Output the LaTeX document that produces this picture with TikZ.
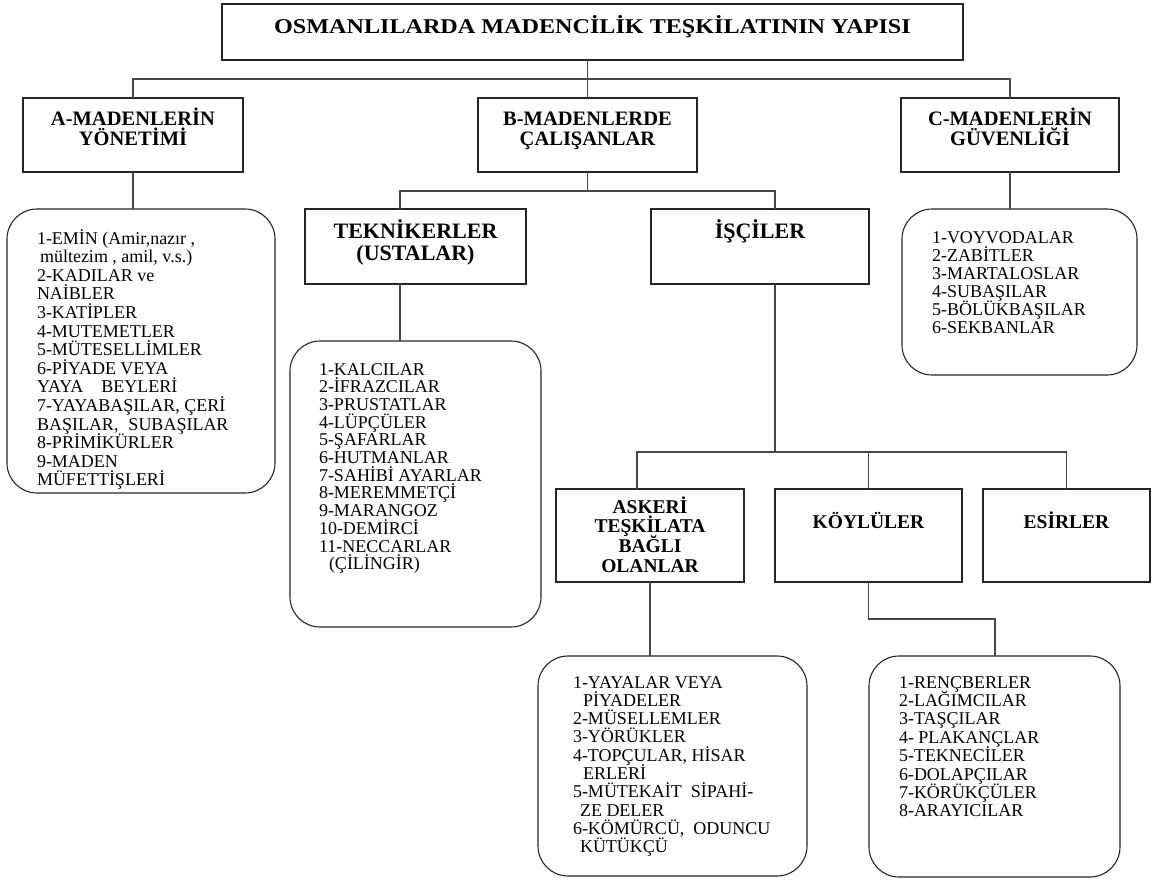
\documentclass[tikz,border=0pt]{standalone}
\usepackage{fontspec}
\setmainfont{Liberation Serif}
\usepackage{graphicx}
\newcommand\cbox[6]{\parbox[c][#2][t]{#1}{\centering\fontsize{#3}{#4}\selectfont\bfseries\lineskiplimit=-100pt\lineskip=0pt\rule{0pt}{#5}#6\par}}
\newcommand\lbox[7]{\parbox[c][#2][t]{#1}{\raggedright\leftskip=#7\fontsize{#3}{#4}\selectfont\lineskiplimit=-100pt\lineskip=0pt\rule{0pt}{#5}#6\par}}
\tikzset{
  box/.style={draw=black!85, line width=1.1pt, inner sep=0pt, outer sep=0pt, anchor=north west},
  rbox/.style={box, rounded corners=30pt},
  conn/.style={draw=black!72, line width=1.3pt}
}
\begin{document}
\begin{tikzpicture}[x=1pt,y=-1pt]
\useasboundingbox[fill=white] (0,0) rectangle (1160,879);
% headers
\node[box] (title) at (222,4) {\cbox{741pt}{56pt}{21pt}{21pt}{29pt}{\scalebox{1.15}[1]{OSMANLILARDA MADENCİLİK TEŞKİLATININ YAPISI}}};
\node[box] (A) at (23,98) {\cbox{220pt}{74pt}{20.5pt}{20pt}{27pt}{A-MADENLERİN\\YÖNETİMİ}};
\node[box] (B) at (478,98) {\cbox{219pt}{74pt}{20.5pt}{20pt}{27pt}{B-MADENLERDE\\ÇALIŞANLAR}};
\node[box] (C) at (901,98) {\cbox{218pt}{74pt}{20.5pt}{20pt}{27pt}{C-MADENLERİN\\GÜVENLİĞİ}};
\node[box] (tek) at (305,209) {\cbox{221pt}{75pt}{22pt}{22pt}{29pt}{TEKNİKERLER\\(USTALAR)}};
\node[box] (isc) at (651,209) {\cbox{218pt}{75pt}{22pt}{22pt}{29pt}{İŞÇİLER}};
\node[box] (ask) at (556,489) {\cbox{188pt}{93pt}{19.5pt}{19.7pt}{24pt}{ASKERİ\\TEŞKİLATA\\BAĞLI\\OLANLAR}};
\node[box] (koy) at (775,489) {\cbox{187pt}{93pt}{19.5pt}{19.7pt}{39pt}{KÖYLÜLER}};
\node[box] (esir) at (983,489) {\cbox{167pt}{93pt}{19.5pt}{19.7pt}{39pt}{ESİRLER}};
% lists
\node[rbox] (Alist) at (7,209) {\lbox{268pt}{284pt}{18pt}{18.6pt}{35pt}{1-EMİN (Amir,nazır ,\\
\hspace*{3pt}mültezim , amil, v.s.)\\
2-KADILAR ve\\
NAİBLER\\
3-KATİPLER\\
4-MUTEMETLER\\
5-MÜTESELLİMLER\\
6-PİYADE VEYA\\
YAYA\hspace{18pt}BEYLERİ\\
7-YAYABAŞILAR, ÇERİ\\
BAŞILAR,\hspace{10pt}SUBAŞILAR\\
8-PRİMİKÜRLER\\
9-MADEN\\
MÜFETTİŞLERİ}{30pt}};
\node[rbox] (teklist) at (290,341) {\lbox{251pt}{286pt}{18pt}{17.7pt}{34pt}{1-KALCILAR\\
2-İFRAZCILAR\\
3-PRUSTATLAR\\
4-LÜPÇÜLER\\
5-ŞAFARLAR\\
6-HUTMANLAR\\
7-SAHİBİ AYARLAR\\
8-MEREMMETÇİ\\
9-MARANGOZ\\
10-DEMİRCİ\\
11-NECCARLAR\\
\hspace*{10pt}(ÇİLİNGİR)}{29pt}};
\node[rbox] (Clist) at (902,209) {\lbox{235pt}{166pt}{18pt}{18pt}{34pt}{1-VOYVODALAR\\
2-ZABİTLER\\
3-MARTALOSLAR\\
4-SUBAŞILAR\\
5-BÖLÜKBAŞILAR\\
6-SEKBANLAR}{30pt}};
\node[rbox] (asklist) at (538,656) {\lbox{269pt}{220pt}{18pt}{18.3pt}{32pt}{1-YAYALAR VEYA\\
\hspace*{10pt}PİYADELER\\
2-MÜSELLEMLER\\
3-YÖRÜKLER\\
4-TOPÇULAR, HİSAR\\
\hspace*{10pt}ERLERİ\\
5-MÜTEKAİT\hspace{9pt}SİPAHİ-\\
\hspace*{7pt}ZE DELER\\
6-KÖMÜRCÜ,\hspace{9pt}ODUNCU\\
\hspace*{7pt}KÜTÜKÇÜ}{35pt}};
\node[rbox] (koylist) at (869,656) {\lbox{251pt}{221pt}{18pt}{18.4pt}{32pt}{1-RENÇBERLER\\
2-LAĞIMCILAR\\
3-TAŞÇILAR\\
4- PLAKANÇLAR\\
5-TEKNECİLER\\
6-DOLAPÇILAR\\
7-KÖRÜKÇÜLER\\
8-ARAYICILAR}{30pt}};
% junction coordinates
\coordinate (j1) at (588,79);
\coordinate (tekx) at (400,191);
\coordinate (iscx) at (775,191);
\coordinate (j3) at (637,452);
\coordinate (kelb) at (995,619);
% connectors
\draw[conn] (title.south -| B.north) -- (B.north);
\draw[conn] (A.north) |- (j1) -| (C.north);
\draw[conn] (A.south) -- (A.south |- Alist.north);
\draw[conn] (C.south) -- (C.south |- Clist.north);
\draw[conn] (B.south) -- (B.south |- tekx);
\draw[conn] (tekx |- tek.north) -- (tekx) -- (iscx) -- (iscx |- isc.north);
\draw[conn] (tekx |- tek.south) -- (tekx |- teklist.north);
\draw[conn] (iscx |- isc.south) -- (iscx |- j3);
\draw[conn] (j3 |- ask.north) -- (j3) -- (esir.north |- j3) -- (esir.north);
\draw[conn] (koy.north |- j3) -- (koy.north);
\draw[conn] (ask.south) -- (ask.south |- asklist.north);
\draw[conn] (koy.south) |- (kelb) -- (kelb |- koylist.north);
\end{tikzpicture}
\end{document}
